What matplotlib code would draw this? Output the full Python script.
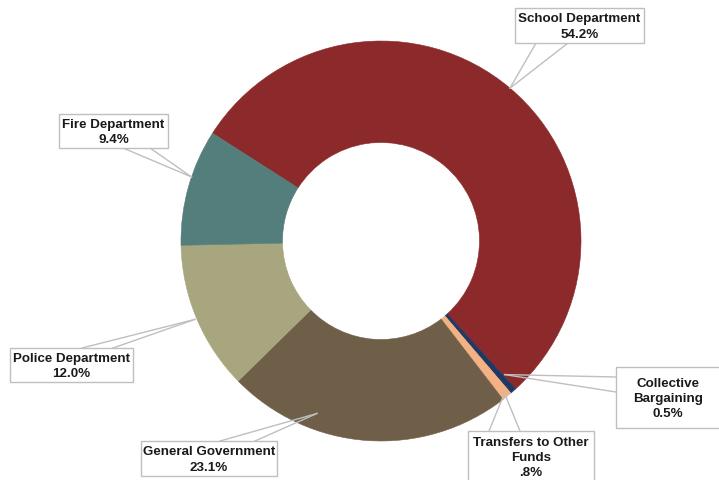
import numpy as np
import matplotlib.pyplot as plt
from matplotlib.patches import Rectangle

plt.rcParams['font.family'] = ['Liberation Sans', 'DejaVu Sans']

# budget shares, in drawing order (clockwise)
categories = ["School Department", "Collective\nBargaining", "Transfers to Other\nFunds",
              "General Government", "Police Department", "Fire Department"]
shares = [54.2, 0.5, 0.8, 23.1, 12.0, 9.4]
share_labels = ["54.2%", "0.5%", ".8%", "23.1%", "12.0%", "9.4%"]
colors = ["#8C292B", "#1F3864", "#F4B183", "#6F5F49", "#A8A67E", "#537E7B"]

W, H = 719, 481
fig = plt.figure(figsize=(W / 100, H / 100), dpi=100)
ax = fig.add_axes([0, 0, 1, 1])

cx, cy = 381, H - 242
R = 200
hole = 98.5

wedges, _ = ax.pie(shares, colors=colors, startangle=147.4, counterclock=False,
                   radius=R, center=(cx, cy),
                   wedgeprops=dict(width=R - hole, linewidth=0))
for w, c in zip(wedges, colors):
    w.set_edgecolor(c)
    w.set_linewidth(0.4)

ax.set_xlim(0, W)
ax.set_ylim(0, H)
ax.set_aspect('auto')
ax.axis('off')

# callout boxes: (left, top, width, height) in px from top-left,
# text centre (px), leader base points (px), tip tweak (deg, radius factor)
boxes = [
    ((515, 9, 129, 35), (579.5, 27), [(536, 44), (568, 44)], (0, 1.0)),
    ((616, 368, 110, 61), (668, 399), [(616, 378), (616, 393)], (1.4, 0.91)),
    ((468, 432, 126, 60), (531, 458), [(489, 432), (520, 432)], (0, 0.98)),
    ((141, 442, 136, 35), (209, 460), [(220, 442), (255, 442)], (-16.4, 0.92)),
    ((10, 349, 123, 34), (71.5, 366.5), [(82, 349), (113, 349)], (0, 1.01)),
    ((59, 115, 109, 34), (113.5, 132.5), [(123, 149), (150, 149)], (-3, 1.0)),
]

line_col = "#BFBFBF"
for w, name, pct, (box, tc, base, (dang, rfac)) in zip(wedges, categories, share_labels, boxes):
    ang = np.deg2rad((w.theta1 + w.theta2) / 2 + dang)
    tx = cx + R * rfac * np.cos(ang)
    ty = cy + R * rfac * np.sin(ang)
    for bx, by in base:
        ax.plot([bx, tx], [H - by, ty], color=line_col, lw=1, zorder=3)
    x0, y0, bw, bh = box
    ax.add_patch(Rectangle((x0, H - y0 - bh), bw, bh, facecolor='white',
                           edgecolor=line_col, lw=1, zorder=4))
    ax.text(tc[0], H - tc[1], name + "\n" + pct, ha='center', va='center',
            fontsize=9.6, fontweight='bold', linespacing=1.35, color='#1A1A1A',
            zorder=5)

fig.savefig("out.png", dpi=100)
